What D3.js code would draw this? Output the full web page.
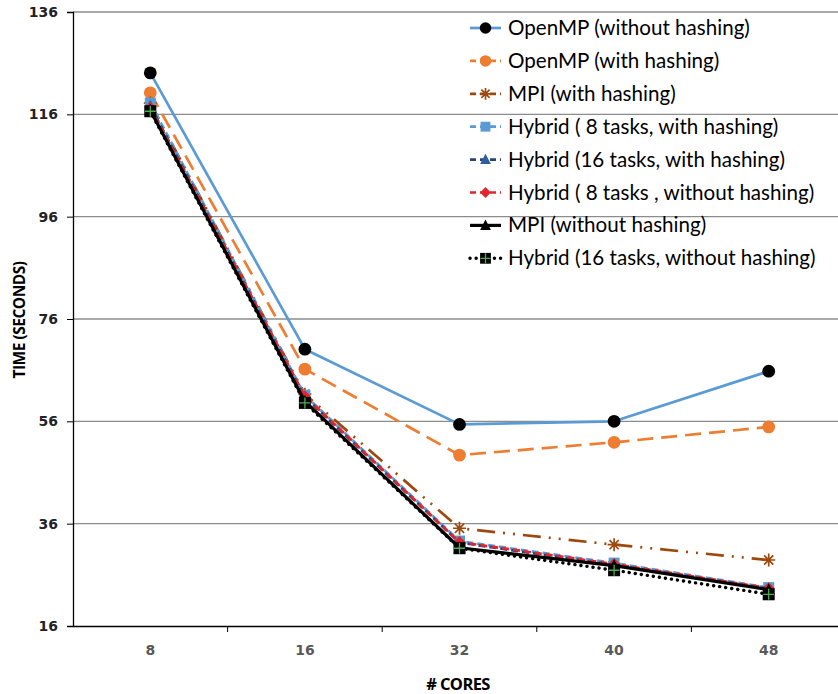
<!DOCTYPE html>
<html><head><meta charset="utf-8">
<script src="https://cdn.jsdelivr.net/npm/d3@7"></script>
<style>body{margin:0;background:#fff}svg{display:block}text{font-family:Lato,"Open Sans",sans-serif}</style>
</head><body><svg id="c" width="838" height="694"></svg>
<script>
const categories = ["8","16","32","40","48"];
const yTicks = [16,36,56,76,96,116,136];
const seriesNames = ["OpenMP (without hashing)","OpenMP (with hashing)","MPI (with hashing)","Hybrid ( 8 tasks, with hashing)","Hybrid (16 tasks, with hashing)","Hybrid ( 8 tasks , without hashing)","MPI (without hashing)","Hybrid (16 tasks, without hashing)"];
const openmpNoHash = [124.1, 70.1, 55.4, 56.0, 65.8];
const openmpHash   = [120.2, 66.2, 49.4, 51.9, 54.9];
const mpiHash      = [118.2, 61.3, 35.1, 31.9, 28.9];
const hyb8Hash     = [118.2, 61.1, 32.6, 28.3, 23.5];
const hyb16Hash    = [117.6, 60.7, 32.3, 27.9, 23.3];
const hyb8NoHash   = [117.3, 60.9, 32.4, 28.1, 23.4];
const mpiNoHash    = [116.8, 59.9, 31.3, 27.8, 23.1];
const hyb16NoHash  = [116.6, 59.6, 31.2, 26.9, 22.2];
const allValues = [openmpNoHash, openmpHash, mpiHash, hyb8Hash, hyb16Hash, hyb8NoHash, mpiNoHash, hyb16NoHash];

const styles = [
  {color:"#5b9bd5", dash:null, width:2.7, marker:"circle", mfill:"#000"},
  {color:"#ed7d31", dash:"16,8", width:2.7, marker:"circle", mfill:"#ed7d31"},
  {color:"#9e480e", dash:"18,8,2,8,2,8", width:2.7, marker:"star", mfill:"#9e480e"},
  {color:"#5b9bd5", dash:"7,4", width:2.7, marker:"square", mfill:"#5b9bd5"},
  {color:"#264478", dash:"7,4", width:2.7, marker:"triangle", mfill:"#2e5e9c"},
  {color:"#e0262f", dash:"7,4", width:2.7, marker:"diamond", mfill:"#e0262f"},
  {color:"#000", dash:null, width:3.2, marker:"triangle", mfill:"#000"},
  {color:"#000", dash:"0.1,6", width:3.4, cap:"round", marker:"sqcross", mfill:"#000"}
];

const svg = d3.select("#c");
const L = 73, T = 12, B = 626, bw = 154.6;
const x = d3.scaleBand().domain(categories).range([L, L + bw*categories.length]);
const y = d3.scaleLinear().domain([16,136]).range([B, T]);

// gridlines
svg.append("g").selectAll("line").data(yTicks.filter(d=>d>16)).join("line")
  .attr("x1", L).attr("x2", 838).attr("y1", d=>y(d)).attr("y2", d=>y(d))
  .attr("stroke", "#8c8c8c").attr("stroke-width", 1.3);

// y axis
const ya = svg.append("g").attr("transform", `translate(${L},0)`)
  .call(d3.axisLeft(y).tickValues(yTicks).tickSize(6).tickPadding(10));
ya.select(".domain").attr("stroke","#000").attr("stroke-width",1.3);
ya.selectAll(".tick line").attr("stroke","#000");
ya.selectAll(".tick text").attr("font-size",14).attr("font-weight","bold").attr("fill","#222")
  .style("font-family","'DejaVu Sans',sans-serif").attr("x",-15);

// x axis
const xa = svg.append("g").attr("transform", `translate(0,${B})`)
  .call(d3.axisBottom(x).tickSize(0).tickPadding(19));
xa.select(".domain").attr("stroke","#000").attr("stroke-width",1.3);
xa.selectAll(".tick text").attr("font-size",14).attr("font-weight","bold").attr("fill","#595959")
  .style("font-family","'DejaVu Sans',sans-serif");
svg.append("g").selectAll("line").data(categories.slice(1)).join("line")
  .attr("x1", d=>x(d)).attr("x2", d=>x(d)).attr("y1", B).attr("y2", B+6).attr("stroke","#000");

// axis titles
svg.append("text").attr("x", 458).attr("y", 690).attr("text-anchor","middle")
  .attr("font-size",16.5).attr("font-weight","bold").attr("fill","#000")
  .style("font-family","'Open Sans',sans-serif").style("letter-spacing","-0.6px").text("# CORES");
svg.append("text").attr("transform","translate(25,320) rotate(-90)").attr("text-anchor","middle")
  .attr("font-size",15.5).attr("font-weight","bold").attr("fill","#000")
  .style("font-family","'Open Sans',sans-serif").style("letter-spacing","-0.5px").text("TIME (SECONDS)");

function drawMarker(g, type, cx, cy, s, scale) {
  const k = scale || 1;
  if (type === "circle") {
    g.append("circle").attr("cx",cx).attr("cy",cy).attr("r",6.4*k).attr("fill",s.mfill);
  } else if (type === "square") {
    g.append("rect").attr("x",cx-5.5*k).attr("y",cy-5.5*k).attr("width",11*k).attr("height",11*k).attr("fill",s.mfill);
  } else if (type === "triangle") {
    g.append("path").attr("d",`M${cx},${cy-6.5*k}L${cx+6*k},${cy+5*k}L${cx-6*k},${cy+5*k}Z`).attr("fill",s.mfill);
  } else if (type === "diamond") {
    g.append("path").attr("d",`M${cx},${cy-6*k}L${cx+6*k},${cy}L${cx},${cy+6*k}L${cx-6*k},${cy}Z`).attr("fill",s.mfill);
  } else if (type === "star") {
    const r = 6.5*k;
    const p = [];
    for (let i=0;i<4;i++){const a=i*Math.PI/4; p.push(`M${cx-r*Math.cos(a)},${cy-r*Math.sin(a)}L${cx+r*Math.cos(a)},${cy+r*Math.sin(a)}`);}
    g.append("path").attr("d",p.join("")).attr("stroke",s.mfill).attr("stroke-width",1.7).attr("fill","none");
  } else if (type === "sqcross") {
    g.append("rect").attr("x",cx-6*k).attr("y",cy-6*k).attr("width",12*k).attr("height",12*k).attr("fill","#000");
    g.append("path").attr("d",`M${cx},${cy-5.5*k}V${cy+5.5*k}M${cx-5.5*k},${cy}H${cx+5.5*k}`).attr("stroke","#4caf50").attr("stroke-width",1.3);
  }
}

const line = d3.line().x((d,i)=>x(categories[i]) + x.bandwidth()/2).y(d=>y(d));
allValues.forEach((vals, si) => {
  const s = styles[si];
  const g = svg.append("g");
  g.append("path").attr("d", line(vals)).attr("fill","none").attr("stroke", s.color)
    .attr("stroke-width", s.width).attr("stroke-dasharray", s.dash)
    .attr("stroke-linecap", s.cap || "butt").attr("stroke-linejoin","round");
  vals.forEach((v,i)=> drawMarker(g, s.marker, x(categories[i]) + x.bandwidth()/2, y(v), s));
});

// legend
const lg = svg.append("g");
seriesNames.forEach((n, i) => {
  const s = styles[i];
  const cy = 28 + i*32.9;
  lg.append("line").attr("x1",470).attr("x2",501).attr("y1",cy).attr("y2",cy)
    .attr("stroke",s.color).attr("stroke-width",s.width)
    .attr("stroke-dasharray", s.dash ? (s.cap ? "0.1,6" : "6,4") : null)
    .attr("stroke-linecap", s.cap || "butt");
  drawMarker(lg, s.marker, 485.5, cy, s, 0.9);
  lg.append("text").attr("x",508).attr("y",cy+7).attr("font-size",20.6).attr("fill","#000").text(n);
});
</script></body></html>
